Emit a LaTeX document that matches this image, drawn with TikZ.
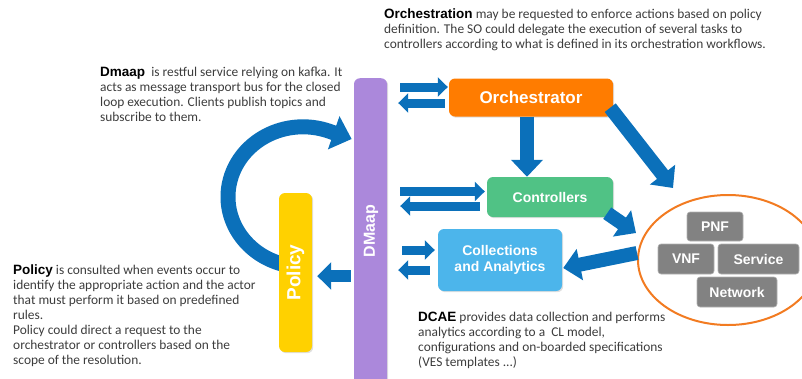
\documentclass[tikz,border=0pt]{standalone}
\usepackage{fontspec}
\setmainfont{Carlito}
\newfontfamily\arialf{Liberation Sans}
\usetikzlibrary{arrows.meta,calc,shapes.geometric,backgrounds,shadows}
\definecolor{orchC}{HTML}{FF7C00}
\definecolor{ctrlC}{HTML}{50C285}
\definecolor{collC}{HTML}{4CB5EB}
\definecolor{dmaapC}{HTML}{AB88DB}
\definecolor{polC}{HTML}{FFD100}
\definecolor{grayC}{HTML}{828282}
\definecolor{ellC}{HTML}{F27B21}
\definecolor{arrC}{HTML}{0B70BA}
\definecolor{txtC}{HTML}{3C3C3C}
\newcommand\kw[1]{{\arialf\bfseries\fontsize{13.5}{15}\selectfont\color{black}#1}}
\tikzset{
  box/.style={rounded corners=6pt, inner sep=0pt, text=white, align=center,
    drop shadow={shadow xshift=1.2pt, shadow yshift=-1.2pt, opacity=0.25}},
  gbox/.style={rounded corners=3pt, inner sep=0pt, fill=grayC, draw=gray!60, line width=0.6pt,
    text=white, font=\arialf\bfseries\fontsize{14}{16}\selectfont},
  para/.style={anchor=north west, inner sep=0pt, align=left, text=txtC,
    font=\fontsize{13.4}{15}\selectfont},
  vlabel/.style={rotate=90, text=white, inner sep=0pt},
  arrS/.style={draw=arrC, line width=9pt, -{Triangle[width=19pt,length=10pt]}},
  arrM/.style={draw=arrC, line width=12pt, -{Triangle[width=27pt,length=14pt]}},
  arrL/.style={draw=arrC, line width=14pt, -{Triangle[width=31pt,length=17pt]}}
}
\begin{document}
\begin{tikzpicture}[x=1pt,y=-1pt]
\useasboundingbox (0,0) rectangle (802,378);

% boxes
\node[box, fill=dmaapC, minimum width=33pt, minimum height=330pt, anchor=north] (dmaap) at (370.5,78) {};
\node[vlabel, font=\arialf\bfseries\fontsize{16}{18}\selectfont] (dmaapLbl) at (371,231) {DMaap};
\node[box, fill=polC, minimum width=33pt, minimum height=159pt] (policy) at (295.5,272.5) {};
\node[vlabel, font=\arialf\bfseries\fontsize{19}{21}\selectfont] (policyLbl) at (policy.center) {Policy};
\node[box, fill=orchC, minimum width=164pt, minimum height=38pt, font=\arialf\bfseries\fontsize{17}{19}\selectfont] (orch) at (531,97.5) {Orchestrator};
\node[box, fill=ctrlC, minimum width=126pt, minimum height=40pt, font=\arialf\bfseries\fontsize{14}{16}\selectfont] (ctrl) at (550,197) {Controllers};
\node[box, fill=collC, minimum width=124pt, minimum height=62pt, font=\arialf\bfseries\fontsize{14}{16}\selectfont] (coll) at (500,260) {Collections\\and Analytics};

% resource ellipse
\node[draw=ellC, line width=2pt, ellipse, minimum width=180pt, minimum height=130pt] (sys) at (728,260) {};
\node[gbox, minimum width=56pt, minimum height=29pt] (pnf) at (715,226.5) {PNF};
\node[gbox, minimum width=56pt, minimum height=30pt] (vnf) at (686,259) {VNF};
\node[gbox, minimum width=81pt, minimum height=30pt] (svc) at (758.5,259) {Service};
\node[gbox, minimum width=80pt, minimum height=30pt] (net) at (737,292) {Network};

% loop arrow (behind Policy)
\coordinate (loopc) at ($(policy.north)+(7.5,4)$);
\begin{pgfonlayer}{background}
\draw[arrC, line width=15pt, -{Triangle[width=34pt,length=19pt]}]
  ($(loopc)+(100:75 and 70)$) arc[start angle=100, end angle=290, x radius=75, y radius=70]
  -- ++(23,8);
\end{pgfonlayer}

% DMaap <-> Orchestrator
\draw[arrS] ($(dmaap.east |- orch.west)+(13,-10.5)$) -- ($(orch.west)+(-1,-10.5)$);
\draw[arrS] ($(orch.west)+(-4,5.5)$) -- ($(dmaap.east |- orch.west)+(11,5.5)$);
% DMaap <-> Controllers
\draw[arrS] ($(dmaap.east |- ctrl.west)+(13,-5.5)$) -- ($(ctrl.west)+(-2,-5.5)$);
\draw[arrS] ($(ctrl.west)+(-7,9)$) -- ($(dmaap.east |- ctrl.west)+(13,9)$);
% DMaap <-> Collections
\draw[arrS] ($(dmaap.east |- coll.west)+(15,-10)$) -- ($(coll.west)+(-3,-10)$);
\draw[arrS] ($(coll.west)+(-8,10)$) -- ($(dmaap.east |- coll.west)+(11,10)$);
% DMaap -> Policy
\draw[arrM] ($(dmaap.west |- policy.east)+(-3,3.5)$) -- ($(policy.east)+(5,3.5)$);
% Orchestrator -> Controllers
\draw[arrL] ($(orch.south)+(-4,0)$) -- ($(ctrl.north -| orch.south)+(-4,0)$);
% Orchestrator -> resources
\draw[arrL] ($(orch.south east)+(-3,-9)$) -- ($(sys.center)+(-55,-72)$);
% Controllers -> resources
\draw[arrL] ($(ctrl.south east)+(-6,-4)$) -- ($(sys.west)+(-1,-27)$);
% resources -> Collections
\draw[arrL] ($(sys.west)+(0,-7)$) -- ($(coll.east)+(1,8)$);

% texts
\node[para] (orchText) at (384,9) {\kw{Orchestration} may be requested to enforce actions based on policy\\
definition. The SO could delegate the execution of several tasks to\\
controllers according to what is defined in its orchestration workflows.};
\node[para] (dmaapText) at (100,67) {\kw{Dmaap}\ \ is restful service relying on kafka. It\\
acts as message transport bus for the closed\\
loop execution. Clients publish topics and\\
subscribe to them.};
\node[para] (policyText) at (13,265) {\kw{Policy} is consulted when events occur to\\
identify the appropriate action and the actor\\
that must perform it based on predefined\\
rules.\\
Policy could direct a request to the\\
orchestrator or controllers based on the\\
scope of the resolution.};
\node[para] (dcaeText) at (418,312) {\kw{DCAE} provides data collection and performs\\
analytics according to a\ \ CL model,\\
configurations and on-boarded specifications\\
(VES templates ...)};
\end{tikzpicture}
\end{document}
